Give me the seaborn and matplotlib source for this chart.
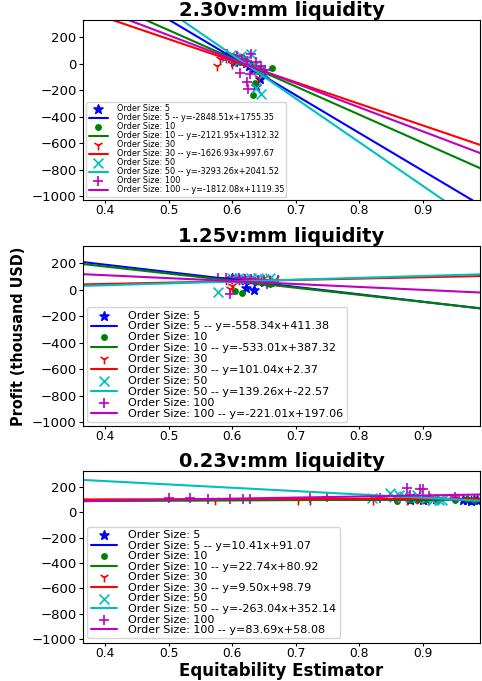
import numpy as np
import matplotlib
matplotlib.use("Agg")
import matplotlib.pyplot as plt
import seaborn as sns

## valores
panel_titles = ["2.30v:mm liquidity", "1.25v:mm liquidity", "0.23v:mm liquidity"]
order_sizes = [5, 10, 30, 50, 100]

# pendiente / intercepto de cada recta (por panel, por order size)
slopes = [[-2848.51, -2121.95, -1626.93, -3293.26, -1812.08],
          [-558.34, -533.01, 101.04, 139.26, -221.01],
          [10.41, 22.74, 9.50, -263.04, 83.69]]
intercepts = [[1755.35, 1312.32, 997.67, 2041.52, 1119.35],
              [411.38, 387.32, 2.37, -22.57, 197.06],
              [91.07, 80.92, 98.79, 352.14, 58.08]]

# puntos panel 1 (2.30)
p1_x = [[0.592, 0.598, 0.604, 0.610, 0.615, 0.621, 0.627, 0.632, 0.638, 0.644, 0.647, 0.603],
        [0.595, 0.602, 0.608, 0.615, 0.622, 0.628, 0.636, 0.644, 0.663, 0.633, 0.640, 0.612],
        [0.576, 0.581, 0.590, 0.598, 0.605, 0.612, 0.620, 0.628, 0.636, 0.642, 0.600],
        [0.590, 0.598, 0.606, 0.614, 0.622, 0.630, 0.636, 0.642, 0.638, 0.645, 0.650, 0.610],
        [0.585, 0.592, 0.600, 0.607, 0.615, 0.623, 0.630, 0.638, 0.645, 0.651, 0.612, 0.623, 0.625, 0.628]]
p1_y = [[55, 40, 35, 20, 30, 5, -15, -40, -170, -115, -60, 10],
        [60, 45, 30, 50, 20, 0, -145, -30, -30, -235, -60, 15],
        [-20, 32, 45, 60, 40, 25, 10, -10, -60, -110, -5],
        [50, 65, 40, 60, 30, 75, -10, -50, -185, -230, -70, 20],
        [55, 70, 45, 60, 35, 20, 72, 10, -15, -45, -75, -140, -190, -80]]

# puntos panel 2 (1.25)
p2_x = [[0.600, 0.610, 0.620, 0.630, 0.640, 0.650, 0.660, 0.635, 0.622],
        [0.595, 0.605, 0.615, 0.625, 0.635, 0.645, 0.655, 0.604, 0.615, 0.660],
        [0.590, 0.600, 0.610, 0.620, 0.630, 0.640, 0.650, 0.600, 0.597],
        [0.600, 0.610, 0.620, 0.630, 0.640, 0.650, 0.660, 0.578, 0.665],
        [0.578, 0.590, 0.600, 0.610, 0.620, 0.630, 0.640, 0.650, 0.660, 0.672, 0.597, 0.655]]
p2_y = [[85, 80, 75, 70, 65, 60, 55, -2, 12],
        [80, 85, 75, 70, 65, 60, 55, -10, -25, 45],
        [70, 80, 75, 85, 80, 75, 85, 27, 5],
        [85, 90, 80, 85, 88, 80, 90, -17, 75],
        [85, 88, 82, 86, 78, 80, 75, 70, 65, 72, -32, 40]]

# puntos panel 3 (0.23)
p3_x = [[0.880, 0.900, 0.920, 0.963, 0.970, 0.975, 0.980, 0.985],
        [0.860, 0.880, 0.890, 0.900, 0.910, 0.920, 0.950, 0.970, 0.980],
        [0.573, 0.703, 0.722, 0.821, 0.860, 0.875, 0.890, 0.900, 0.910],
        [0.820, 0.848, 0.855, 0.862, 0.870, 0.880, 0.890, 0.905, 0.915, 0.925, 0.930],
        [0.500, 0.534, 0.562, 0.597, 0.617, 0.628, 0.722, 0.749, 0.832, 0.875, 0.895, 0.900, 0.880, 0.910, 0.950]]
p3_y = [[100, 98, 102, 95, 97, 93, 96, 94],
        [92, 95, 100, 98, 100, 96, 98, 102, 100],
        [95, 97, 97, 100, 105, 100, 103, 108, 100],
        [110, 150, 125, 140, 130, 120, 135, 110, 100, 95, 98],
        [115, 112, 105, 105, 108, 107, 110, 118, 115, 190, 185, 185, 140, 130, 120]]

xs_all = [p1_x, p2_x, p3_x]
ys_all = [p1_y, p2_y, p3_y]

colores = ["b", "g", "r", "c", "m"]
marcadores = ["*", "o", "1", "x", "+"]
tam = [45, 14, 50, 50, 60]

sns.set_style("ticks")
plt.rcParams["font.family"] = ["DejaVu Sans"]
for k_ in ["text.color", "axes.labelcolor", "xtick.color", "ytick.color", "axes.edgecolor"]:
    plt.rcParams[k_] = "black"

fig = plt.figure(figsize=(4.82, 6.81), dpi=100)
posiciones = [[0.172, 0.706, 0.824, 0.265],
              [0.172, 0.374, 0.824, 0.265],
              [0.172, 0.056, 0.824, 0.253]]
leg_fs = [5.9, 8.0, 8.0]
leg_sp = [0.0, 0.08, 0.05]

xx = np.linspace(0.3, 1.05, 50)
for k in range(3):
    ax = fig.add_axes(posiciones[k])
    for j, os_ in enumerate(order_sizes):
        c = colores[j]
        sns.scatterplot(x=xs_all[k][j], y=ys_all[k][j], ax=ax, color=c, marker=marcadores[j],
                        s=tam[j], edgecolor=c, linewidth=1.2, label="Order Size: %d" % os_)
        m = slopes[k][j]
        b = intercepts[k][j]
        lab = "Order Size: %d -- y=%.2fx+%.2f" % (os_, m, b)
        sns.lineplot(x=xx, y=m * xx + b, ax=ax, color=c, linewidth=1.5, label=lab)
    ax.set_xlim(0.365, 0.99)
    ax.set_ylim(-1030, 330)
    ax.set_xticks([0.4, 0.5, 0.6, 0.7, 0.8, 0.9])
    ax.set_yticks([200, 0, -200, -400, -600, -800, -1000])
    ax.tick_params(axis="y", labelsize=9.5, length=3, pad=1.5)
    ax.tick_params(axis="x", labelsize=8.8, length=2, pad=1)
    ax.set_title(panel_titles[k], fontsize=14, fontweight="bold", pad=2)
    ax.legend(loc="lower left", fontsize=leg_fs[k], labelspacing=leg_sp[k], borderpad=0.3,
              handlelength=2.4, handletextpad=1.0, borderaxespad=0.4)
    if k == 1:
        ax.set_ylabel("Profit (thousand USD)", fontsize=11.5, fontweight="bold",
                      fontstretch="condensed", labelpad=4)
    if k == 2:
        ax.set_xlabel("Equitability Estimator", fontsize=12, fontweight="bold")
        ax.xaxis.label.set_va("baseline")
        ax.xaxis.set_label_coords(0.5, -(676 - 681 * (1 - 0.056)) / (681 * 0.253))

fig.savefig("out.png", dpi=100)
